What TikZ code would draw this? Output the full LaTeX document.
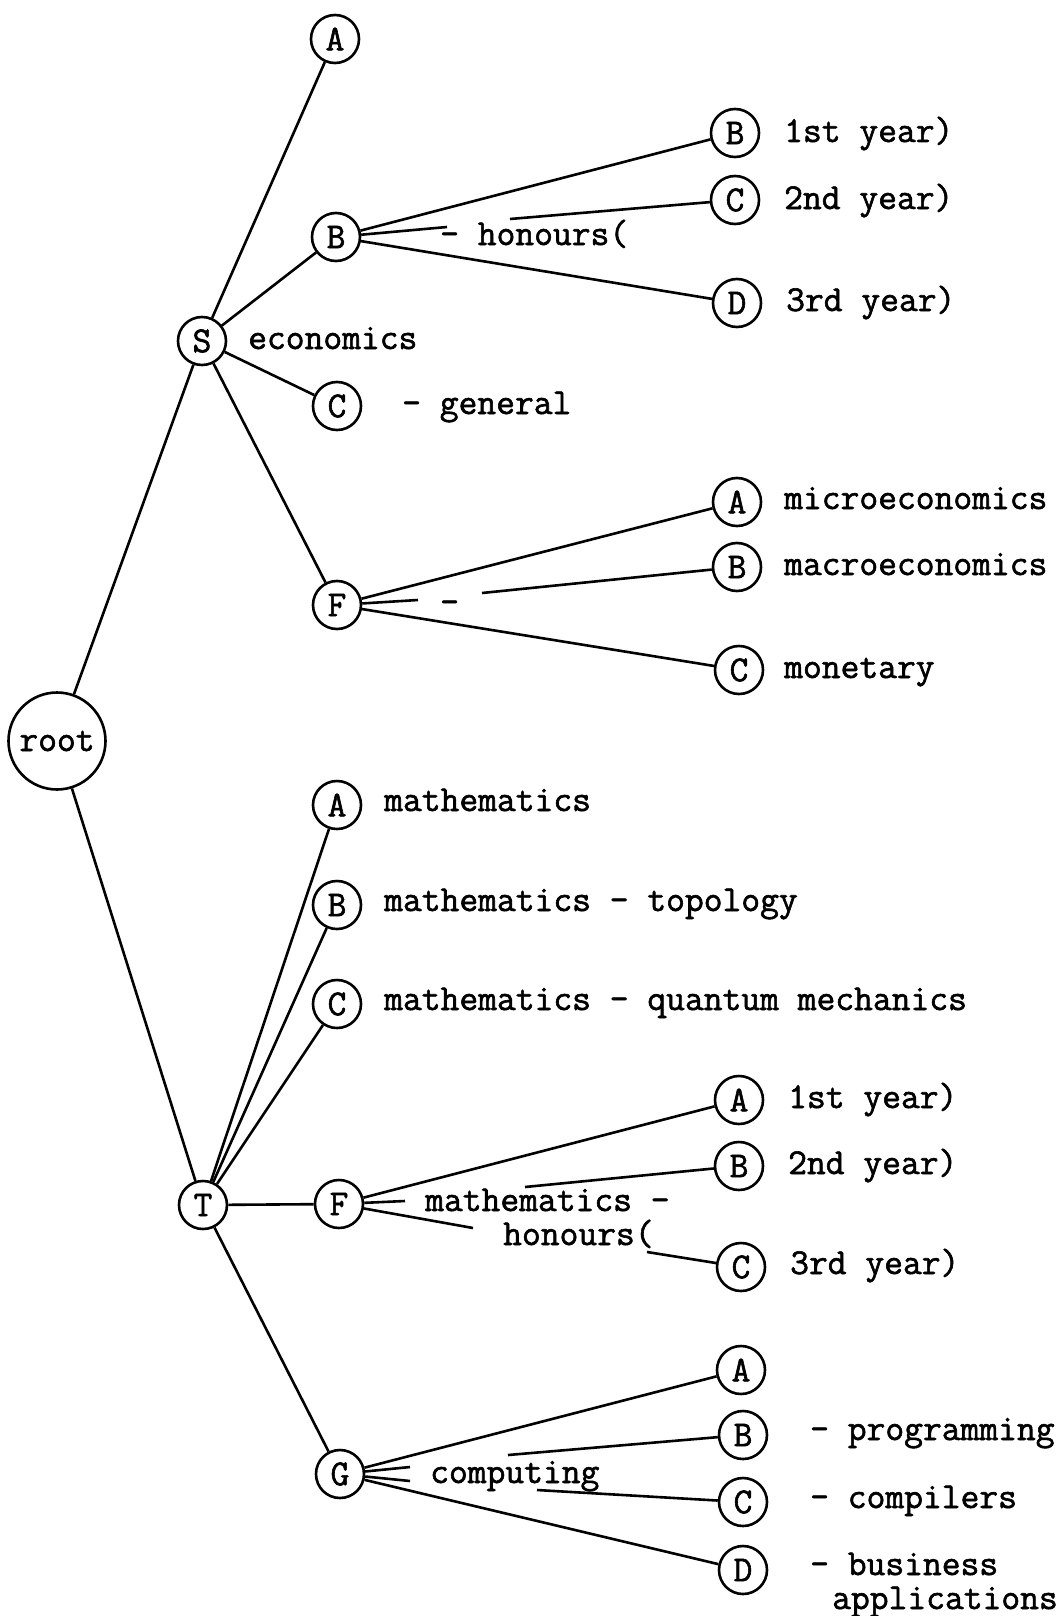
\documentclass[tikz,border=0pt]{standalone}
\usepackage{fontspec}
\newfontfamily\tw{Latin Modern Mono}[FakeBold=1.6]
\begin{document}
\begin{tikzpicture}[x=1pt,y=-1pt,
  every node/.style={font=\tw\fontsize{36.5}{40}\selectfont},
  circ/.style={draw,circle,line width=2.6pt,minimum size=48pt,inner sep=0pt},
  bigcirc/.style={draw,circle,line width=2.6pt,minimum size=97pt,inner sep=0pt},
  lbl/.style={anchor=base west,inner sep=0pt},
  edge/.style={line width=2.6pt}]
\useasboundingbox (0,0) rectangle (1059,1616);
\fill[white] (0,0) rectangle (1059,1616);
% nodes
\node[bigcirc] (root) at (57,741) {root};
\node[circ] (S) at (202,341) {S};
\node[circ] (eA) at (335,39) {A};
\node[circ] (eB) at (336,237) {B};
\node[circ] (eC) at (337,406) {C};
\node[circ] (eF) at (337,605) {F};
\node[circ] (b1) at (735,133) {B};
\node[circ] (b2) at (735,200) {C};
\node[circ] (b3) at (737,303) {D};
\node[circ] (f1) at (737,502) {A};
\node[circ] (f2) at (737,567) {B};
\node[circ] (f3) at (739,670) {C};
\node[circ] (T) at (203,1205) {T};
\node[circ] (tA) at (337,805) {A};
\node[circ] (tB) at (337,905) {B};
\node[circ] (tC) at (337,1004) {C};
\node[circ] (tF) at (339,1204) {F};
\node[circ] (tG) at (340,1474) {G};
\node[circ] (tf1) at (739,1100) {A};
\node[circ] (tf2) at (739,1166) {B};
\node[circ] (tf3) at (741,1267) {C};
\node[circ] (gA) at (741,1370) {A};
\node[circ] (gB) at (743,1435) {B};
\node[circ] (gC) at (743,1502) {C};
\node[circ] (gD) at (743,1570) {D};
% labels
\node[lbl] (l1) at (248,349) {economics};
\node[lbl] (l2) at (440,245) {- honours(};
\node[lbl] (l3) at (402,414) {- general};
\node[lbl] (l4) at (784,142) {1st year)};
\node[lbl] (l5) at (784,209) {2nd year)};
\node[lbl] (l6) at (786,311) {3rd year)};
\node[lbl] (l7) at (784,509) {microeconomics};
\node[lbl] (l8) at (784,575) {macroeconomics};
\node[lbl] (l9) at (784,678) {monetary};
\node[lbl] (l10) at (440,613) {-};
\node[lbl] (l11) at (384,811) {mathematics};
\node[lbl] (l12) at (384,911) {mathematics - topology};
\node[lbl] (l13) at (384,1010) {mathematics - quantum mechanics};
\node[lbl] (l14) at (788,1108) {1st year)};
\node[lbl] (l15) at (788,1174) {2nd year)};
\node[lbl] (l16) at (790,1274) {3rd year)};
\node[lbl] (l17) at (425,1211) {mathematics -};
\node[lbl] (l18) at (503,1245) {honours(};
\node[lbl] (l19) at (430,1483) {computing};
\node[lbl] (l20) at (810,1440) {- programming};
\node[lbl] (l21) at (810,1508) {- compilers};
\node[lbl] (l22) at (810,1575) {- business};
\node[lbl] (l23) at (832,1609) {applications};
% break coordinates
\coordinate (k1a) at (447,227); \coordinate (k1b) at (510,219);
\coordinate (k2a) at (418,600); \coordinate (k2b) at (482,593);
\coordinate (k3a) at (405,1201); \coordinate (k3b) at (525,1187);
\coordinate (k4a) at (473,1228); \coordinate (k4b) at (647,1252);
\coordinate (k5a) at (410,1467); \coordinate (k5b) at (508,1455);
\coordinate (k6a) at (410,1481); \coordinate (k6b) at (537,1490);
% edges
\draw[edge] (root) -- (S);
\draw[edge] (root) -- (T);
\draw[edge] (S) -- (eA);
\draw[edge] (S) -- (eB);
\draw[edge] (S) -- (eC);
\draw[edge] (S) -- (eF);
\draw[edge] (eB) -- (b1);
\draw[edge] (eB) -- (k1a); \draw[edge] (k1b) -- (b2);
\draw[edge] (eB) -- (b3);
\draw[edge] (eF) -- (f1);
\draw[edge] (eF) -- (k2a); \draw[edge] (k2b) -- (f2);
\draw[edge] (eF) -- (f3);
\draw[edge] (T) -- (tA);
\draw[edge] (T) -- (tB);
\draw[edge] (T) -- (tC);
\draw[edge] (T) -- (tF);
\draw[edge] (T) -- (tG);
\draw[edge] (tF) -- (tf1);
\draw[edge] (tF) -- (k3a); \draw[edge] (k3b) -- (tf2);
\draw[edge] (tF) -- (k4a); \draw[edge] (k4b) -- (tf3);
\draw[edge] (tG) -- (gA);
\draw[edge] (tG) -- (k5a); \draw[edge] (k5b) -- (gB);
\draw[edge] (tG) -- (k6a); \draw[edge] (k6b) -- (gC);
\draw[edge] (tG) -- (gD);
\end{tikzpicture}
\end{document}
